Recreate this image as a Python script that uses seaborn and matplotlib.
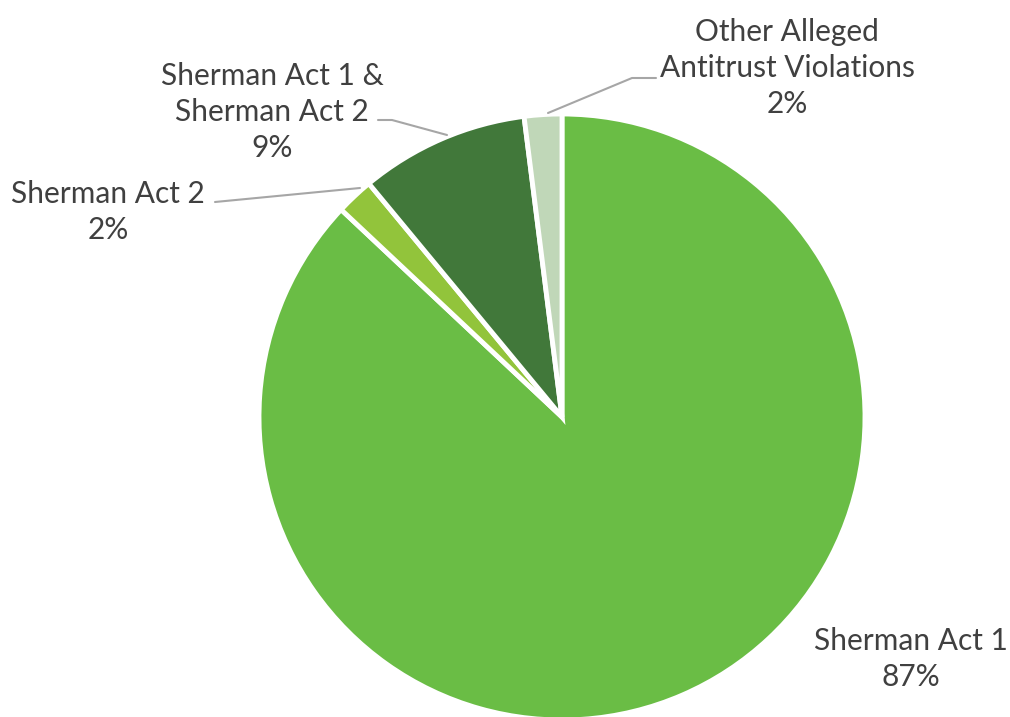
import matplotlib.pyplot as plt
import seaborn as sns

# Dati del grafico
categories = [
    "Sherman Act 1",
    "Sherman Act 2",
    "Sherman Act 1 &\nSherman Act 2",
    "Other Alleged\nAntitrust Violations",
]
shares = [87, 2, 9, 2]
colors = ["#6ABD45", "#92C43B", "#41783A", "#C0D7B8"]

sns.set_theme(style="white")
plt.rcParams["font.family"] = ["Lato", "DejaVu Sans"]

fig = plt.figure(figsize=(10.1, 7.17), dpi=100)
W, H = 1010, 717

# Pie axes: centro (562, 417) px, raggio 303 px
cx, cy, r = 562, 417, 303
ax = fig.add_axes([(cx - r) / W, (H - cy - r) / H, 2 * r / W, 2 * r / H])
palette = sns.color_palette(colors)
ax.pie(
    shares,
    colors=palette,
    startangle=90,
    counterclock=False,
    wedgeprops=dict(edgecolor="white", linewidth=3.5),
)
ax.set_xlim(-1, 1)
ax.set_ylim(-1, 1)
ax.set_aspect("equal")
ax.axis("off")

# Overlay per etichette e linee guida, in pixel
ov = fig.add_axes([0, 0, 1, 1])
ov.set_xlim(0, W)
ov.set_ylim(H, 0)
ov.axis("off")
ov.patch.set_alpha(0)

txt_color = "#404040"
line_color = "#A6A6A6"
fs = 21.5

labels_pos = [(911, 659), (108, 212), (272, 112), (787, 68)]
for name, val, (x, y) in zip(categories, shares, labels_pos):
    ov.text(
        x, y, f"{name}\n{val}%", ha="center", va="center",
        fontsize=fs, color=txt_color, linespacing=1.33,
    )

# linee guida
ov.plot([215, 360], [202, 188], color=line_color, lw=1.5)
ov.plot([378, 392, 447], [120, 120, 135], color=line_color, lw=1.5)
ov.plot([548, 632, 656], [113, 78, 78], color=line_color, lw=1.5)

plt.savefig("out.png", dpi=100)
